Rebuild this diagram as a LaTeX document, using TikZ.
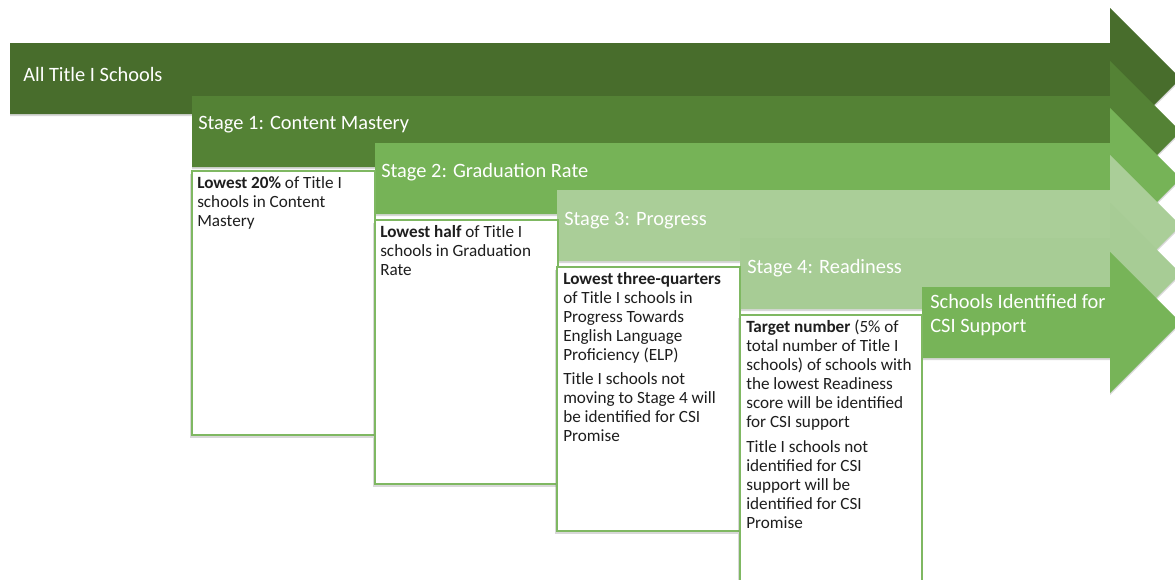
\documentclass[tikz,border=0pt]{standalone}
\usepackage{fontspec}
\setmainfont{Carlito}
\usetikzlibrary{positioning,shadows}

\definecolor{greenA}{HTML}{486D2C}
\definecolor{greenB}{HTML}{548235}
\definecolor{greenC}{HTML}{76B357}
\definecolor{greenD}{HTML}{AACE98}
\definecolor{greenE}{HTML}{A7CC95}
\definecolor{greenF}{HTML}{77B458}
\definecolor{boxline}{HTML}{7FB862}
\definecolor{boxtext}{HTML}{1E1E1E}

\tikzset{
  stagebar/.style={drop shadow={shadow xshift=0pt, shadow yshift=-1.5pt, opacity=0.3}},
  stagelabel/.style={anchor=base west, inner sep=0pt, text=white, font=\fontsize{14.5}{17}\selectfont},
  infobox/.style={draw=boxline, line width=1pt, fill=white, drop shadow={shadow xshift=-1.5pt, shadow yshift=-2pt, opacity=0.3}},
  infotext/.style={anchor=north west, inner sep=0pt, align=left, text=boxtext, font=\fontsize{12.2}{13.5}\selectfont}
}

\begin{document}
\begin{tikzpicture}[x=0.025cm, y=-0.025cm]
    % Parameters
    \def\xHead{1110}
    \def\bodyH{71}
    \def\headW{35}

    \clip (0,0) rectangle (1175,579);
    \fill[white] (0,0) rectangle (1175,579);

    % Stage arrows, each one over the one before
    \foreach \i/\xs/\yt/\col in {0/10/43/greenA, 1/192/96/greenB, 2/375/143/greenC, 3/557/190/greenD, 4/740/238/greenE, 5/922/287/greenF} {
        \fill[\col, stagebar] (\xs,\yt) -- (\xHead,\yt) -- (\xHead,{\yt-\headW})
            -- ({\xHead+\headW+\bodyH/2},{\yt+\bodyH/2})
            -- (\xHead,{\yt+\bodyH+\headW}) -- (\xHead,{\yt+\bodyH}) -- (\xs,{\yt+\bodyH}) -- cycle;
    }

    % Arrow labels
    \node[stagelabel] (L0) at (23,81) {All Title I Schools};
    \node[stagelabel] (L1) at (198,129) {Stage 1: Content Mastery};
    \node[stagelabel] (L2) at (381,177) {Stage 2: Graduation Rate};
    \node[stagelabel] (L3) at (564,225) {Stage 3: Progress};
    \node[stagelabel] (L4) at (747,273) {Stage 4: Readiness};
    \node[stagelabel, anchor=north west, align=left] (L5) at (930,294) {Schools Identified for\\CSI Support};

    % Boxes under the stages
    \foreach \i/\xs/\yt in {1/192/171, 2/375/220, 3/557/267} {
        \draw[infobox] (\xs,\yt) rectangle ++(183,264);
    }
    \draw[infobox] (740,315) rectangle (922,600);

    \node[infotext] (T1) at (197,176) {\textbf{Lowest 20\%} of Title I\\schools in Content\\Mastery};
    \node[infotext] (T2) at (380,225) {\textbf{Lowest half} of Title I\\schools in Graduation\\Rate};
    \node[infotext] (T3) at (563,272) {\textbf{Lowest three-quarters}\\of Title I schools in\\Progress Towards\\English Language\\Proficiency (ELP)\\[4pt]Title I schools not\\moving to Stage 4 will\\be identified for CSI\\Promise};
    \node[infotext] (T4) at (746,320) {\textbf{Target number} (5\% of\\total number of Title I\\schools) of schools with\\the lowest Readiness\\score will be identified\\for CSI support\\[4pt]Title I schools not\\identified for CSI\\support will be\\identified for CSI\\Promise};

\end{tikzpicture}
\end{document}
